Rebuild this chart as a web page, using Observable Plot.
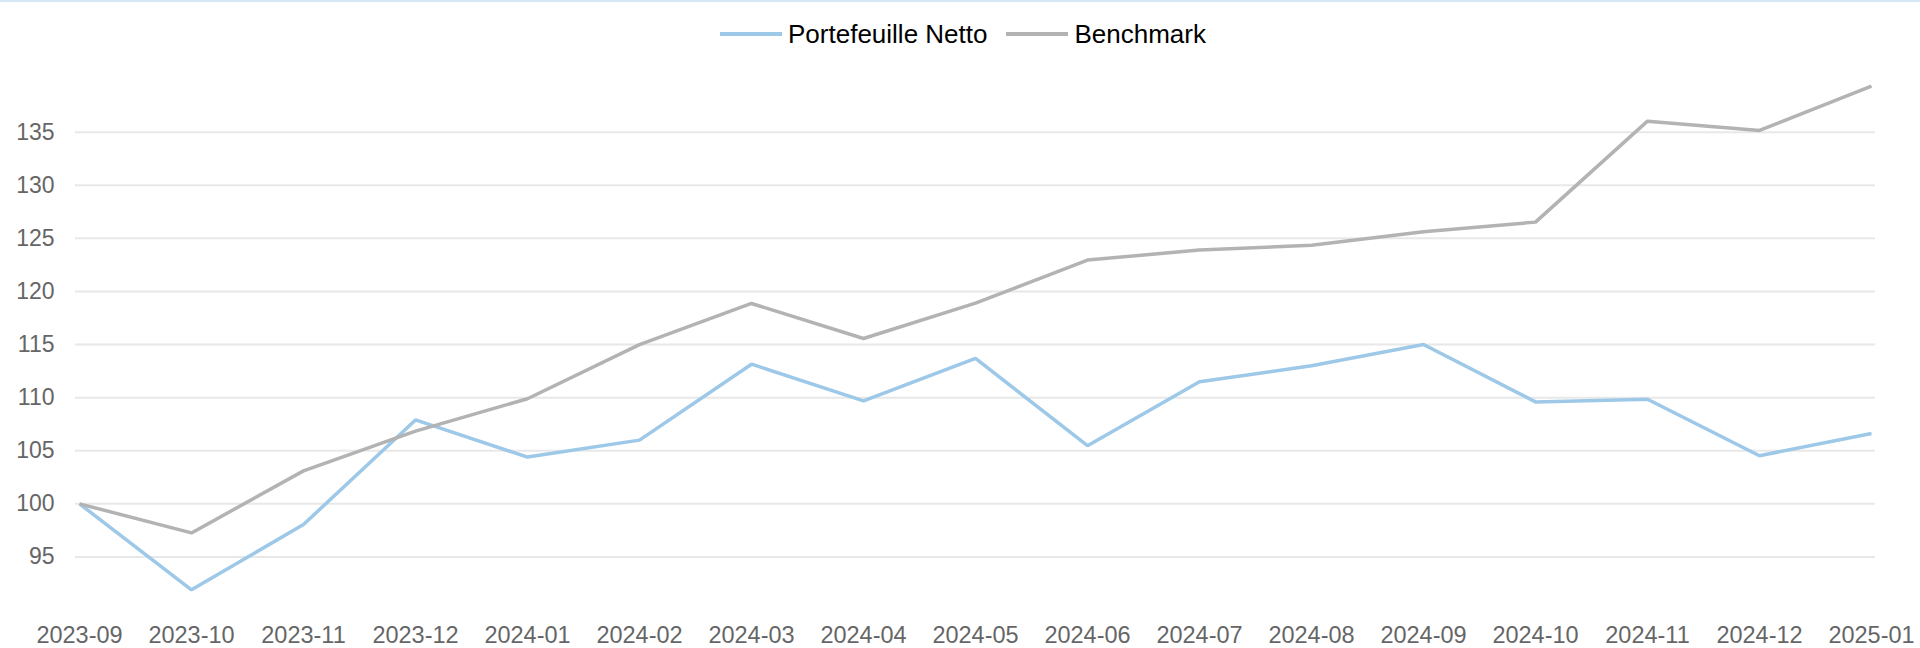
<!DOCTYPE html>
<html>
<head>
<meta charset="utf-8">
<script src="https://cdn.jsdelivr.net/npm/d3@7"></script>
<script src="https://cdn.jsdelivr.net/npm/@observablehq/plot@0.6"></script>
<style>
  html, body { margin: 0; padding: 0; background: #fff; }
  body { width: 1920px; height: 648px; overflow: hidden; font-family: "Liberation Sans", Arial, sans-serif; }
  #topbar { height: 2px; background: #d6e7f5; }
  #legend { height: 58px; display: flex; justify-content: center; align-items: center; gap: 19px; font-size: 26px; color: #000; padding-left: 6px; box-sizing: border-box; padding-top: 6px; }
  .item { display: flex; align-items: center; gap: 6px; }
  .sw { width: 62px; height: 4px; }
  #chart svg { display: block; }
</style>
</head>
<body>
<div id="topbar"></div>
<div id="legend"></div>
<div id="chart"></div>
<script>
const months = ["2023-09","2023-10","2023-11","2023-12","2024-01","2024-02","2024-03","2024-04","2024-05","2024-06","2024-07","2024-08","2024-09","2024-10","2024-11","2024-12","2025-01"];
const portefeuille = [100, 91.9, 98.05, 107.9, 104.4, 106.0, 113.15, 109.7, 113.7, 105.47, 111.5, 113.0, 115.0, 109.6, 109.85, 104.53, 106.63];
const benchmark = [100, 97.26, 103.1, 106.85, 109.9, 115.0, 118.87, 115.57, 118.9, 122.96, 123.9, 124.35, 125.63, 126.53, 136.04, 135.16, 139.34];
const seriesNames = ["Portefeuille Netto", "Benchmark"];
const seriesColors = ["#9dc8e8", "#b3b3b3"];
const yTicks = [95, 100, 105, 110, 115, 120, 125, 130, 135];

const rows = [];
[portefeuille, benchmark].forEach((vals, s) => {
  vals.forEach((v, i) => rows.push({month: months[i], value: v, series: seriesNames[s]}));
});

const legend = document.getElementById("legend");
seriesNames.forEach((n, i) => {
  const it = document.createElement("div");
  it.className = "item";
  const sw = document.createElement("div");
  sw.className = "sw";
  sw.style.background = seriesColors[i];
  const t = document.createElement("span");
  t.textContent = n;
  it.appendChild(sw); it.appendChild(t);
  legend.appendChild(it);
});

const plot = Plot.plot({
  width: 1920,
  height: 588,
  marginLeft: 75,
  marginRight: 45,
  marginTop: 18.6,
  marginBottom: 38.5,
  style: { fontFamily: "Liberation Sans, Arial, sans-serif", background: "#fff" },
  x: { type: "point", domain: months, padding: 0, label: null },
  y: { domain: [90, 140], label: null },
  color: { domain: seriesNames, range: seriesColors },
  marks: [
    Plot.gridY(yTicks, { stroke: "#e8e8e8", strokeOpacity: 1, strokeWidth: 2 }),
    Plot.axisY(yTicks, { tickSize: 0, tickPadding: 21, fontSize: 23, fill: "#666", label: null }),
    Plot.axisX(months, { tickSize: 0, tickPadding: 16, fontSize: 23.5, fill: "#666", label: null }),
    Plot.line(rows, { x: "month", y: "value", z: "series", stroke: "series", strokeWidth: 3.5, strokeLinejoin: "miter", strokeLinecap: "butt" })
  ]
});
document.getElementById("chart").appendChild(plot);
</script>
</body>
</html>
